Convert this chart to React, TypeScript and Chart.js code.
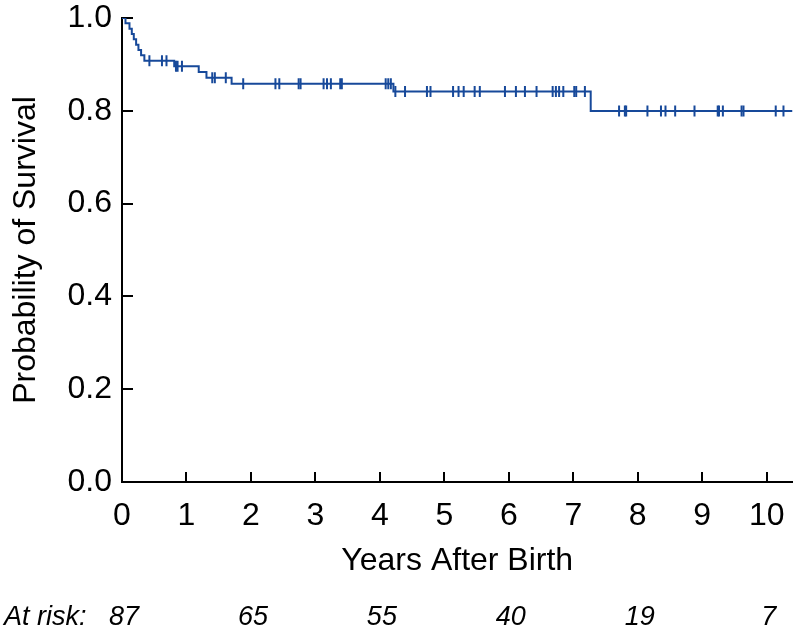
import React, { useEffect, useRef } from 'react';
import { Chart, registerables } from 'chart.js';

Chart.register(...registerables);

// Kaplan-Meier step curve: time (years) at which survival drops, and survival after the drop
const stepTimes = [0, 0.054, 0.116, 0.152, 0.183, 0.219, 0.255, 0.296, 0.347, 0.81, 1.19, 1.31, 1.70, 4.21, 7.27];
const stepSurvival = [1.0, 0.9885, 0.977, 0.9655, 0.954, 0.9425, 0.931, 0.9195, 0.908, 0.896, 0.8837, 0.8712, 0.8582, 0.8417, 0.7996];

// Censored observations (years)
const censorTimes = [
  0.425, 0.62, 0.69, 0.837, 0.862, 0.93, 1.40, 1.44, 1.61, 1.88, 2.38, 2.44, 2.74, 2.77,
  3.127, 3.18, 3.24, 3.385, 3.41, 4.09, 4.13, 4.17, 4.24, 4.39, 4.73, 4.785, 5.135, 5.22,
  5.30, 5.47, 5.55, 5.94, 6.11, 6.25, 6.43, 6.68, 6.73, 6.78, 6.845, 7.015, 7.045, 7.18,
  7.71, 7.80, 7.82, 8.15, 8.36, 8.43, 8.58, 8.88, 9.24, 9.26, 9.32, 9.61, 9.64, 10.14, 10.26,
];

const xMax = 10.4;
const atRiskYears = [0, 2, 4, 6, 8, 10];
const atRiskCounts = [87, 65, 55, 40, 19, 7];

const xTitle = 'Years After Birth';
const yTitle = 'Probability of Survival';
const atRiskLabel = 'At risk:';

const LINE_COLOR = '#17499a';
const FONT = '"Liberation Sans", Arial, sans-serif';

function survivalAt(t: number): number {
  let s = stepSurvival[0];
  for (let i = 0; i < stepTimes.length; i++) {
    if (stepTimes[i] <= t) s = stepSurvival[i];
  }
  return s;
}

const inwardTicks = {
  id: 'inwardTicks',
  beforeDatasetsDraw(chart: any) {
    const { ctx, chartArea, scales } = chart;
    const xs = scales.x;
    const ys = scales.y;
    ctx.save();
    ctx.strokeStyle = '#000';
    ctx.lineWidth = 2;
    ctx.beginPath();
    xs.ticks.forEach((tk: any) => {
      if (tk.value === 0) return;
      const px = Math.round(xs.getPixelForValue(tk.value));
      ctx.moveTo(px, chartArea.bottom);
      ctx.lineTo(px, chartArea.bottom - 10);
    });
    ys.ticks.forEach((tk: any) => {
      if (tk.value === 0) return;
      const py = Math.round(ys.getPixelForValue(tk.value));
      ctx.moveTo(chartArea.left, py);
      ctx.lineTo(chartArea.left + 11, py);
    });
    ctx.stroke();
    ctx.restore();
  },
};

const atRiskRow = {
  id: 'atRiskRow',
  afterDraw(chart: any) {
    const { ctx, scales } = chart;
    const xs = scales.x;
    ctx.save();
    ctx.fillStyle = '#000';
    ctx.font = `italic 27px ${FONT}`;
    ctx.textBaseline = 'middle';
    ctx.textAlign = 'left';
    ctx.fillText(atRiskLabel, 4, 617);
    ctx.textAlign = 'center';
    atRiskYears.forEach((yr, i) => {
      ctx.fillText(String(atRiskCounts[i]), xs.getPixelForValue(yr) + 2, 617);
    });
    ctx.restore();
  },
};

export default function App() {
  const ref = useRef<HTMLCanvasElement | null>(null);

  useEffect(() => {
    if (!ref.current) return;
    const curve = stepTimes.map((t, i) => ({ x: t, y: stepSurvival[i] }));
    curve.push({ x: xMax, y: stepSurvival[stepSurvival.length - 1] });
    const censors = censorTimes.map((t) => ({ x: t, y: survivalAt(t) }));

    const chart = new Chart(ref.current, {
      type: 'line',
      data: {
        datasets: [
          {
            data: curve,
            borderColor: LINE_COLOR,
            borderWidth: 2,
            stepped: 'before',
            pointRadius: 0,
            fill: false,
          },
          {
            data: censors,
            showLine: false,
            borderColor: LINE_COLOR,
            backgroundColor: LINE_COLOR,
            pointStyle: 'line',
            rotation: 90,
            pointRadius: 5.5,
            pointBorderWidth: 2,
          } as any,
        ],
      },
      options: {
        animation: false,
        responsive: false,
        devicePixelRatio: 1,
        layout: { padding: { top: 18, left: 0, right: 5, bottom: 53 } },
        plugins: { legend: { display: false }, tooltip: { enabled: false } },
        scales: {
          x: {
            type: 'linear',
            min: 0,
            max: xMax,
            grid: { display: true, drawOnChartArea: false, drawTicks: false },
            border: { display: true, color: '#000', width: 2 },
            ticks: {
              stepSize: 1,
              includeBounds: false,
              color: '#000',
              font: { family: FONT, size: 32 },
              padding: 15,
              maxRotation: 0,
              autoSkip: false,
            },
            title: {
              display: true,
              text: xTitle,
              color: '#000',
              font: { family: FONT, size: 32 },
              padding: { top: 4, bottom: 3 },
            },
            afterFit(scale: any) {
              scale.height = 101;
              scale.paddingLeft = 0;
              scale.paddingRight = 0;
            },
          },
          y: {
            type: 'linear',
            min: 0,
            max: 1,
            grid: { display: true, drawOnChartArea: false, drawTicks: false },
            border: { display: true, color: '#000', width: 2 },
            ticks: {
              stepSize: 0.2,
              color: '#000',
              font: { family: FONT, size: 32 },
              padding: 10,
              callback: (v: any) => Number(v).toFixed(1),
            },
            title: {
              display: true,
              text: yTitle,
              color: '#000',
              font: { family: FONT, size: 32 },
              padding: { top: 7, bottom: 4 },
            },
            afterFit(scale: any) {
              scale.width = 122;
              scale.paddingTop = 0;
              scale.paddingBottom = 0;
            },
          },
        },
      },
      plugins: [inwardTicks, atRiskRow],
    });
    return () => chart.destroy();
  }, []);

  return (
    <div style={{ position: 'absolute', left: 0, top: 0, width: 800, height: 636, background: '#fff' }}>
      <canvas ref={ref} width={800} height={636} style={{ width: 800, height: 636, display: 'block' }} />
    </div>
  );
}
